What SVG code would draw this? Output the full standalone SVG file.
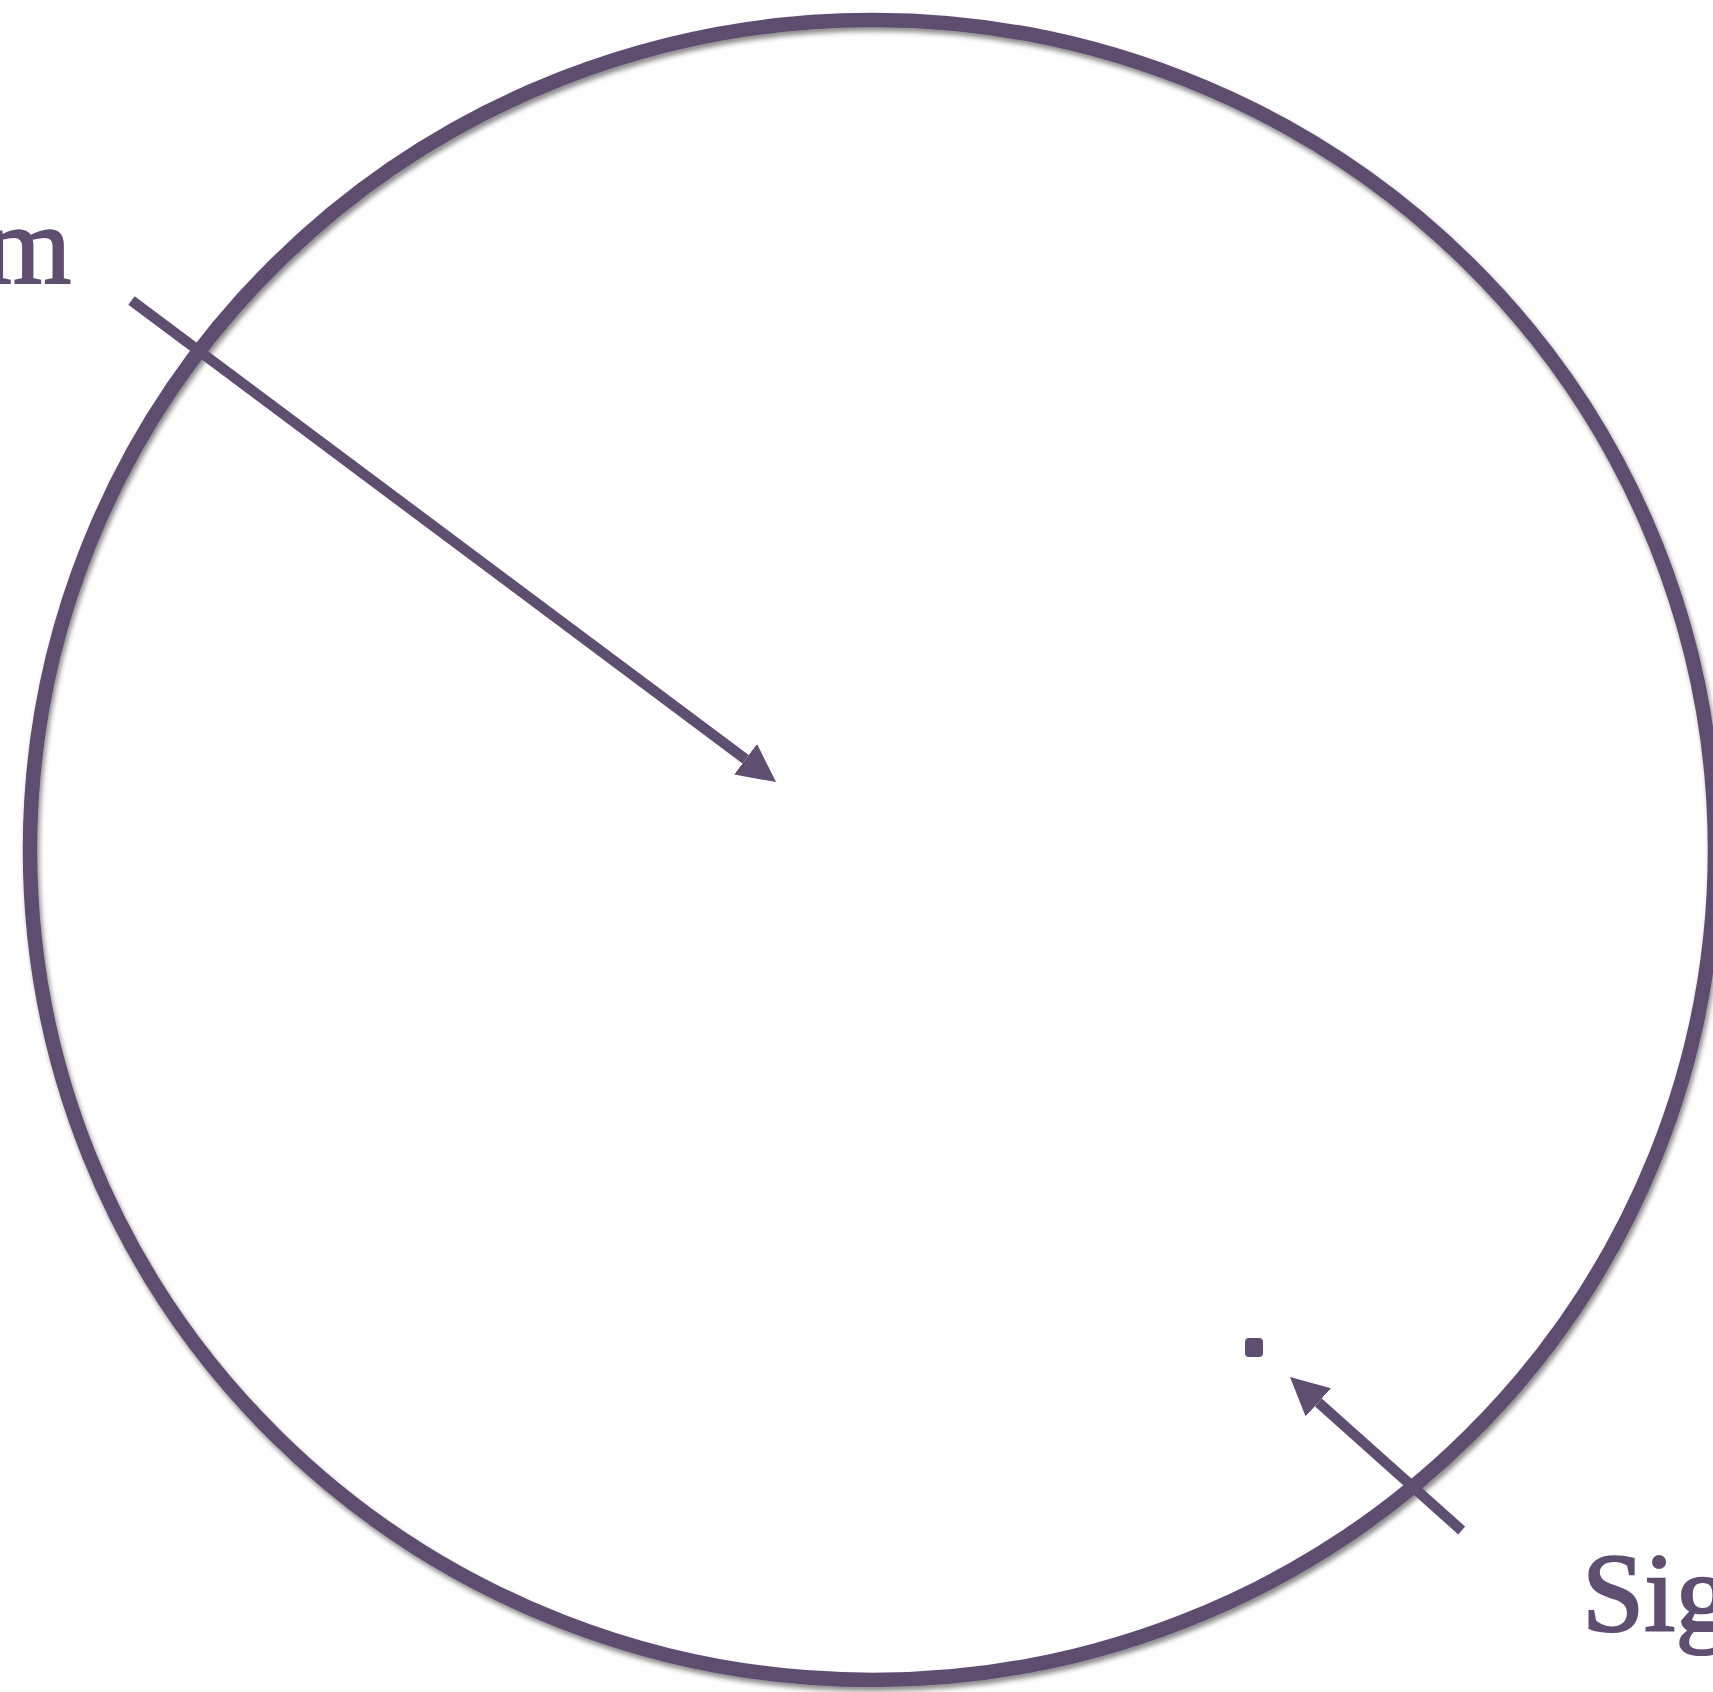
<svg xmlns="http://www.w3.org/2000/svg" width="1713" height="1692" viewBox="0 0 1713 1692">
<style>
.lbl{font-family:"Liberation Serif","DejaVu Serif",serif;font-size:112px;fill:#5e4e6f;stroke:#5e4e6f;stroke-width:2.2px}
.conn{stroke:#5e4e6f;stroke-width:10.5;fill:none}
</style>
<defs>
<filter id="sh" x="-5%" y="-5%" width="110%" height="110%">
<feDropShadow dx="2" dy="4" stdDeviation="2.5" flood-color="#000" flood-opacity="0.45"/>
</filter>
<marker id="ah" markerUnits="userSpaceOnUse" markerWidth="40" markerHeight="40" refX="0" refY="19" orient="auto" viewBox="0 0 40 38">
<path d="M0,0 L38,19 L0,38 z" fill="#5e4e6f"/>
</marker>
</defs>
<rect width="1713" height="1692" fill="#fff"/>
<g id="circle">
<ellipse cx="872.5" cy="850" rx="842.5" ry="830" fill="none" stroke="#5e4e6f" stroke-width="14.5" filter="url(#sh)"/>
</g>
<g id="label-m"><text class="lbl" x="71" y="283" text-anchor="end">m</text></g>
<g id="label-sig"><text class="lbl" x="1582" y="1631">Sig</text></g>
<g id="dot"><rect x="1245" y="1338" width="18" height="19" rx="4" fill="#5e4e6f"/></g>
<g id="connectors">
<line class="conn" x1="131.5" y1="300.5" x2="745.6" y2="759.3" marker-end="url(#ah)"/>
<line class="conn" x1="1461.7" y1="1530.5" x2="1318.3" y2="1402.3" marker-end="url(#ah)"/>
</g>
</svg>
